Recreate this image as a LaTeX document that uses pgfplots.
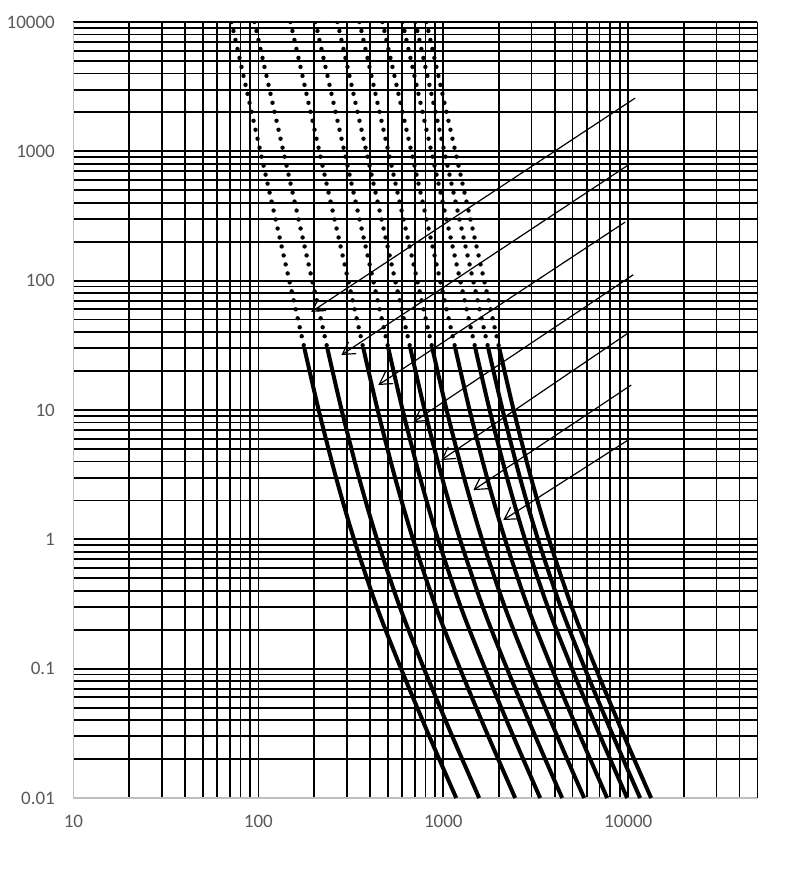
\documentclass[border=0pt]{standalone}
\usepackage{pgfplots}
\pgfplotsset{compat=1.18}
\usepackage{fontspec}
\setmainfont{Carlito}
\usetikzlibrary{arrows.meta}
\definecolor{ticklab}{RGB}{89,89,89}
\definecolor{axisgray}{RGB}{191,191,191}
\pgfplotsset{
  dotcurve/.style={black, line width=2.2pt, line cap=round, dash pattern=on 0pt off 4.6pt},
  solcurve/.style={black, line width=2pt, smooth, tension=0.5},
  arr/.style={black, line width=0.6pt, -{Straight Barb[length=6pt,width=7pt]}},
}
\begin{document}
\begin{tikzpicture}
\begin{axis}[
  scale only axis, width=342pt, height=388pt,
  xmode=log, ymode=log,
  xmin=10, xmax=50000, ymin=0.01, ymax=10000,
  axis x line*=bottom, axis y line*=left,
  axis line style={-, axisgray, line width=0.9pt},
  xtick={100,1000,10000}, xticklabels={100,1000,10000},
  extra x ticks={10}, extra x tick labels={10}, extra x tick style={grid=none},
  ytick={0.1,1,10,100,1000,10000}, yticklabels={0.1,1,10,100,1000,10000},
  extra y ticks={0.01}, extra y tick labels={0.01}, extra y tick style={grid=none},
  minor xtick={20,30,40,50,60,70,80,90,200,300,400,500,600,700,800,900,2000,3000,4000,5000,6000,7000,8000,9000,20000,30000,40000,50000},
  minor ytick={0.02,0.03,0.04,0.05,0.06,0.07,0.08,0.09,0.2,0.3,0.4,0.5,0.6,0.7,0.8,0.9,2,3,4,5,6,7,8,9,20,30,40,50,60,70,80,90,200,300,400,500,600,700,800,900,2000,3000,4000,5000,6000,7000,8000,9000},
  grid=both,
  major grid style={black, line width=0.9pt},
  minor grid style={black, line width=0.9pt},
  major tick length=0pt, minor tick length=0pt,
  tick style={draw=none},
  tick label style={font=\fontsize{9.5}{11}\selectfont, text=ticklab},
  /pgf/number format/assume math mode=true,
  yticklabel style={xshift=-5.8pt},
  xticklabel style={yshift=-5pt},
  clip mode=individual,
]
% dotted upper parts
\addplot[dotcurve] coordinates {(71.5,10000) (177.3,30)};
\addplot[dotcurve] coordinates {(95.2,10000) (236.0,30)};
\addplot[dotcurve] coordinates {(149.0,10000) (369.5,30)};
\addplot[dotcurve] coordinates {(203.4,10000) (504.4,30)};
\addplot[dotcurve] coordinates {(267.5,10000) (663.3,30)};
\addplot[dotcurve] coordinates {(351.8,10000) (872.3,30)};
\addplot[dotcurve] coordinates {(468.4,10000) (1161,30)};
\addplot[dotcurve] coordinates {(600.8,10000) (1490,30)};
\addplot[dotcurve] coordinates {(706.1,10000) (1751,30)};
\addplot[dotcurve] coordinates {(809.7,10000) (2008,30)};
% solid lower parts
\addplot[solcurve] coordinates {(177.3,30) (211.8,10) (263.0,3) (329.1,1) (437.0,0.3) (590.7,0.1) (840.3,0.03) (1174,0.01)};
\addplot[solcurve] coordinates {(236.0,30) (281.9,10) (350.1,3) (438.0,1) (581.6,0.3) (786.2,0.1) (1118,0.03) (1563,0.01)};
\addplot[solcurve] coordinates {(369.5,30) (441.4,10) (548.1,3) (685.9,1) (910.7,0.3) (1231,0.1) (1751,0.03) (2447,0.01)};
\addplot[solcurve] coordinates {(504.4,30) (602.6,10) (748.2,3) (936.3,1) (1243,0.3) (1681,0.1) (2391,0.03) (3340,0.01)};
\addplot[solcurve] coordinates {(663.3,30) (792.4,10) (983.9,3) (1231,1) (1635,0.3) (2210,0.1) (3144,0.03) (4392,0.01)};
\addplot[solcurve] coordinates {(872.3,30) (1042,10) (1294,3) (1619,1) (2150,0.3) (2906,0.1) (4134,0.03) (5776,0.01)};
\addplot[solcurve] coordinates {(1161,30) (1387,10) (1723,3) (2156,1) (2863,0.3) (3870,0.1) (5505,0.03) (7691,0.01)};
\addplot[solcurve] coordinates {(1490,30) (1780,10) (2210,3) (2765,1) (3672,0.3) (4964,0.1) (7061,0.03) (9865,0.01)};
\addplot[solcurve] coordinates {(1751,30) (2092,10) (2597,3) (3250,1) (4316,0.3) (5834,0.1) (8299,0.03) (11594,0.01)};
\addplot[solcurve] coordinates {(2008,30) (2399,10) (2979,3) (3727,1) (4949,0.3) (6690,0.1) (9516,0.03) (13296,0.01)};
% arrows
\addplot[arr] coordinates {(10900,2580) (193,57.3)};
\addplot[arr] coordinates {(10000,784) (281,26.6)};
\addplot[arr] coordinates {(9630,284) (445,15.6)};
\addplot[arr] coordinates {(10640,111) (689,8.07)};
\addplot[arr] coordinates {(10000,39.4) (975,4.10)};
\addplot[arr] coordinates {(10380,15.6) (1453,2.40)};
\addplot[arr] coordinates {(10380,6.07) (2110,1.41)};
\path ([xshift=-35pt,yshift=-47pt]rel axis cs:0,0) rectangle ([xshift=18pt,yshift=11pt]rel axis cs:1,1);
\end{axis}
\end{tikzpicture}
\end{document}
